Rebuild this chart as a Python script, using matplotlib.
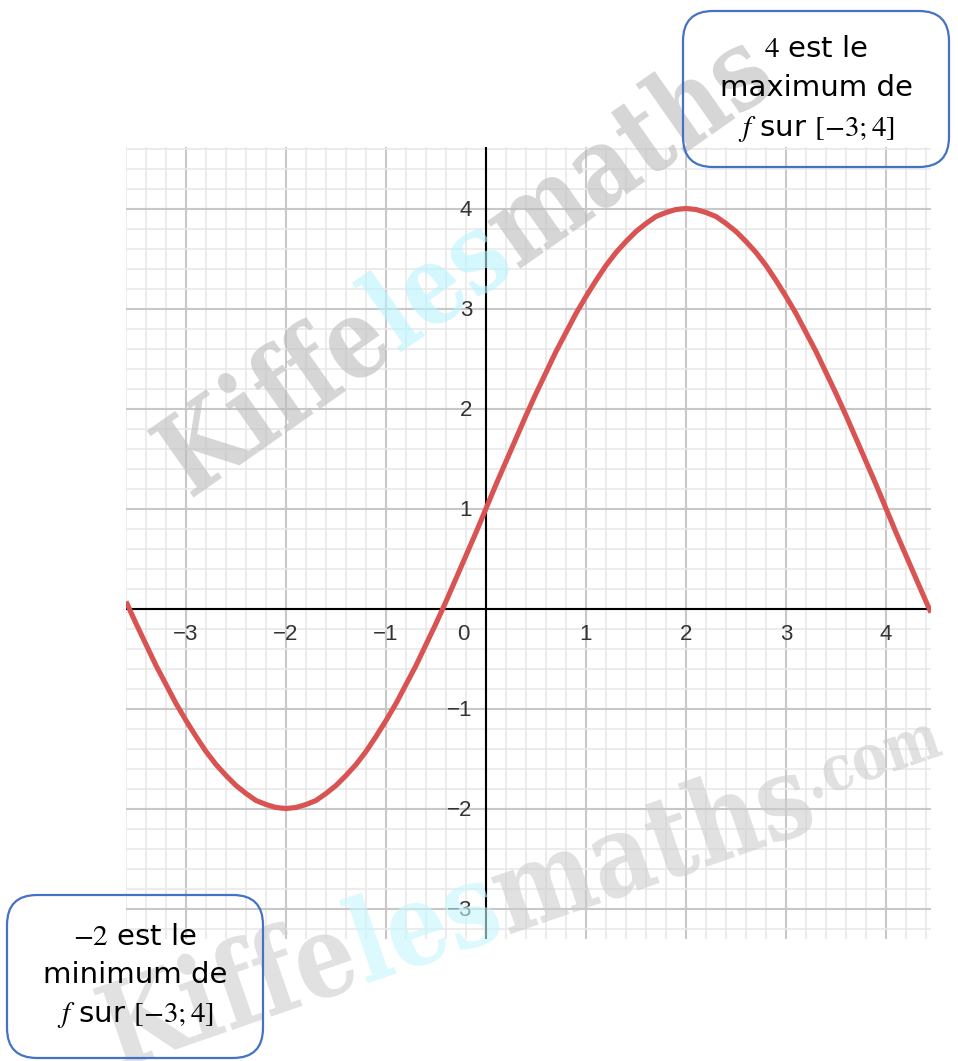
import numpy as np
import matplotlib
matplotlib.use("Agg")
import matplotlib.pyplot as plt
from matplotlib.ticker import MultipleLocator
from matplotlib.textpath import TextPath, text_to_path
from matplotlib.font_manager import FontProperties
from matplotlib.patches import PathPatch, FancyBboxPatch
from matplotlib.transforms import Affine2D, IdentityTransform, offset_copy

# curve points of f
xs = [-3.6, -3.5, -3.4, -3.3, -3.2, -3.1, -3.0, -2.9, -2.8, -2.7, -2.6, -2.5,
      -2.4, -2.3, -2.2, -2.1, -2.0, -1.9, -1.8, -1.7, -1.6, -1.5, -1.4, -1.3,
      -1.2, -1.1, -1.0, -0.9, -0.8, -0.7, -0.6, -0.5, -0.4, -0.3, -0.2, -0.1,
      0.0, 0.1, 0.2, 0.3, 0.4, 0.5, 0.6, 0.7, 0.8, 0.9, 1.0, 1.1, 1.2, 1.3,
      1.4, 1.5, 1.6, 1.7, 1.8, 1.9, 2.0, 2.1, 2.2, 2.3, 2.4, 2.5, 2.6, 2.7,
      2.8, 2.9, 3.0, 3.1, 3.2, 3.3, 3.4, 3.5, 3.6, 3.7, 3.8, 3.9, 4.0, 4.1,
      4.2, 4.3, 4.4, 4.45]
ys = [0.07, -0.15, -0.36, -0.57, -0.76, -0.95, -1.12, -1.28, -1.43, -1.56,
      -1.67, -1.77, -1.85, -1.92, -1.96, -1.99, -2.00, -1.99, -1.96, -1.92,
      -1.85, -1.77, -1.67, -1.56, -1.43, -1.28, -1.12, -0.95, -0.76, -0.57,
      -0.36, -0.15, 0.07, 0.30, 0.53, 0.76, 1.00, 1.24, 1.47, 1.70, 1.93,
      2.15, 2.36, 2.57, 2.76, 2.95, 3.12, 3.28, 3.43, 3.56, 3.67, 3.77, 3.85,
      3.92, 3.96, 3.99, 4.00, 3.99, 3.96, 3.92, 3.85, 3.77, 3.67, 3.56, 3.43,
      3.28, 3.12, 2.95, 2.76, 2.57, 2.36, 2.15, 1.93, 1.70, 1.47, 1.24, 1.00,
      0.76, 0.53, 0.30, 0.07, -0.04]

x_labels = [-3, -2, -1, 1, 2, 3, 4]
y_labels = [-3, -2, -1, 1, 2, 3, 4]

max_lines = ["$4$ est le", "maximum de", "$f$ sur $[-3;4]$"]
min_lines = ["$-2$ est le", "minimum de", "$f$ sur $[-3;4]$"]

plt.rcParams["mathtext.fontset"] = "stix"

W, H = 958, 1061
fig = plt.figure(figsize=(W / 100, H / 100), dpi=100)
fig.patch.set_facecolor("white")


def fx(x):
    return x / W


def fy(y):
    return 1 - y / H


# plot area in pixels: left 126, right 931, top 147, bottom 939
ax = fig.add_axes([fx(126), fy(939), (931 - 126) / W, (939 - 147) / H])
ax.set_xlim(-3.60, 4.45)
ax.set_ylim(-3.305, 4.615)

ax.xaxis.set_major_locator(MultipleLocator(1))
ax.xaxis.set_minor_locator(MultipleLocator(0.2))
ax.yaxis.set_major_locator(MultipleLocator(1))
ax.yaxis.set_minor_locator(MultipleLocator(0.2))
ax.grid(which="minor", color="#e9e9e9", lw=1.2, zorder=0)
ax.grid(which="major", color="#c8c8c8", lw=1.5, zorder=0)
ax.tick_params(which="both", length=0, labelbottom=False, labelleft=False)
for s in ax.spines.values():
    s.set_visible(False)

ax.axhline(0, color="black", lw=1.5, zorder=2)
ax.axvline(0, color="black", lw=1.5, zorder=2)

ax.plot(xs, ys, color="#d95353", lw=3.7, solid_joinstyle="round",
        solid_capstyle="butt", zorder=4)

tick_font = dict(family="Liberation Sans", size=16, color="#333333")
below = offset_copy(ax.transData, fig, x=0, y=-16, units="dots")
for v in x_labels:
    ax.text(v, 0, str(v).replace("-", "\u2212"), ha="center", va="top",
            transform=below, zorder=3, **tick_font)
left = offset_copy(ax.transData, fig, x=-14, y=-2, units="dots")
for v in y_labels:
    ax.text(0, v, str(v).replace("-", "\u2212"), ha="right", va="center",
            transform=left, zorder=3, **tick_font)
origin = offset_copy(ax.transData, fig, x=-23, y=-16, units="dots")
ax.text(0, 0, "0", ha="center", va="top", transform=origin, zorder=3,
        **tick_font)

# watermark, drawn as rotated text paths in pixel space
wm_font = FontProperties(family="DejaVu Serif", weight="bold", size=100)
xh_unit = TextPath((0, 0), "x", prop=wm_font).get_extents().height


def text_width(t):
    return text_to_path.get_text_width_height_descent(t, wm_font, False)[0]


def watermark(pieces, x0, y0, angle, length, xheight, alpha):
    main = "".join(t for t, c, sc, rise in pieces if sc == 1)
    sx = length / text_width(main)
    sy = xheight / xh_unit
    off = 0.0
    for t, c, sc, rise in pieces:
        p = TextPath((0, 0), t, prop=wm_font)
        tr = (Affine2D().scale(sc).translate(off, rise)
              .scale(sx, sy).rotate_deg(angle).translate(x0, H - y0))
        patch = PathPatch(tr.transform_path(p), facecolor=c,
                          edgecolor="none", alpha=alpha,
                          transform=IdentityTransform(), zorder=3)
        fig.add_artist(patch)
        off += sc * text_width(t)


watermark([("Kiffe", "#bcbcbc", 1, 0), ("les", "#b8f4fc", 1, 0),
           ("maths", "#bcbcbc", 1, 0)],
          190, 500, 35, 720, 58, 0.6)
watermark([("Kiffe", "#cdcdcd", 1, 0), ("les", "#c6f7fc", 1, 0),
           ("maths", "#cdcdcd", 1, 0), (".com", "#cdcdcd", 0.55, 25)],
          116, 1070, 19, 745, 60, 0.6)

# callout boxes
box_style = dict(boxstyle="round,pad=0,rounding_size=30", facecolor="none",
                 edgecolor="#4472c4", lw=1.6, transform=IdentityTransform(),
                 zorder=5)
fig.add_artist(FancyBboxPatch((683, H - 167), 949 - 683, 167 - 11,
                              **box_style))
fig.add_artist(FancyBboxPatch((7, H - 1058), 263 - 7, 1058 - 895,
                              **box_style))

for line, y in zip(max_lines, [57, 96, 136]):
    fig.text(fx(816), fy(y), line, ha="center", va="baseline", size=21,
             family="DejaVu Sans", color="black", zorder=6)
for line, y in zip(min_lines, [945, 983, 1022]):
    fig.text(fx(135), fy(y), line, ha="center", va="baseline", size=21,
             family="DejaVu Sans", color="black", zorder=6)

fig.savefig("out.png", dpi=100)
